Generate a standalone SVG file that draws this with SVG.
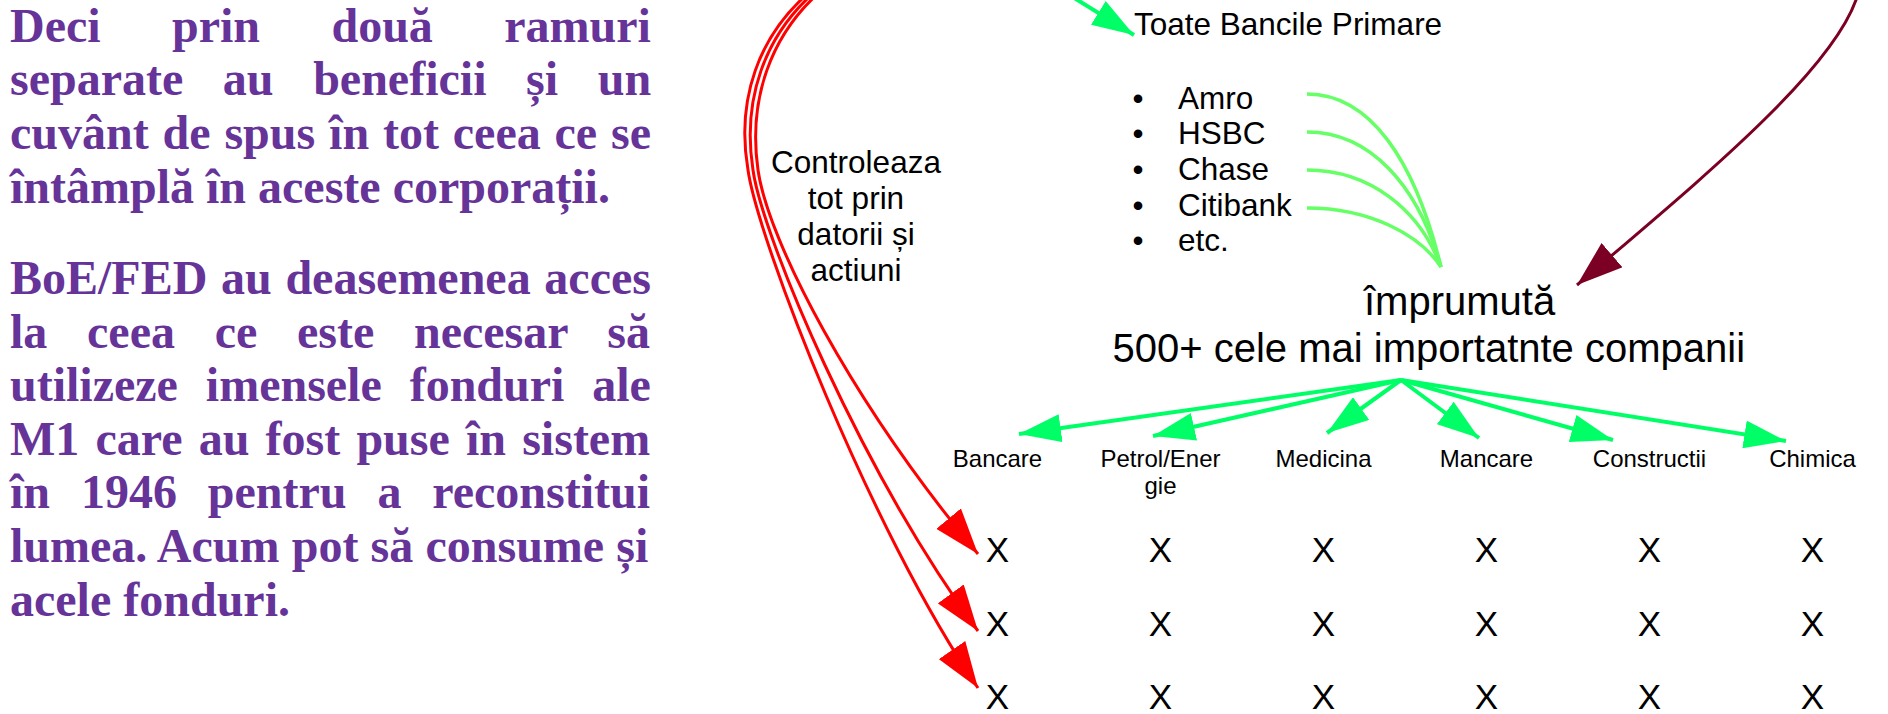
<svg xmlns="http://www.w3.org/2000/svg" width="1888" height="714" viewBox="0 0 1888 714">
<style>
.para{font-family:"Liberation Serif","Times New Roman",serif;font-weight:bold;font-size:48px;fill:#663399}
.lbl{font-family:"Liberation Sans",Arial,sans-serif;fill:#000}
.l31{font-size:31.5px}
.l40{font-size:40px}
.l24{font-size:24px}
.lx{font-size:35px}
.mid{text-anchor:middle}
.red{fill:none;stroke:#ff0000;stroke-width:3}
.dred{fill:none;stroke:#7b0023;stroke-width:3}
.grn{fill:none;stroke:#00ff66;stroke-width:4}
.lgrn{fill:none;stroke:#66ff66;stroke-width:3.5}
</style>
<defs>
<marker id="ah-red" markerUnits="userSpaceOnUse" viewBox="0 0 46 32" refX="46" refY="16" markerWidth="46" markerHeight="32" orient="auto"><path d="M0,0 L46,16 L0,32 z" fill="#ff0000"/></marker>
<marker id="ah-dred" markerUnits="userSpaceOnUse" viewBox="0 0 46 32" refX="46" refY="16" markerWidth="46" markerHeight="32" orient="auto"><path d="M0,0 L46,16 L0,32 z" fill="#7b0023"/></marker>
<marker id="ah-grn" markerUnits="userSpaceOnUse" viewBox="0 0 42 28" refX="42" refY="14" markerWidth="42" markerHeight="28" orient="auto"><path d="M0,0 L42,14 L0,28 z" fill="#00ff66"/></marker>
</defs>
<rect width="1888" height="714" fill="#ffffff"/>

<g id="text-left">
<text class="para" x="10" y="41.7" word-spacing="59.4">Deci prin două ramuri</text>
<text class="para" x="10" y="95.3" word-spacing="27.6">separate au beneficii și un</text>
<text class="para" x="10" y="148.9" word-spacing="1.87">cuvânt de spus în tot ceea ce se</text>
<text class="para" x="10" y="202.5">întâmplă în aceste corporații.</text>
<text class="para" x="10" y="294" word-spacing="1.67">BoE/FED au deasemenea acces</text>
<text class="para" x="10" y="347.6" word-spacing="27.7">la ceea ce este necesar să</text>
<text class="para" x="10" y="401.2" word-spacing="15.9">utilizeze imensele fonduri ale</text>
<text class="para" x="10" y="454.8" word-spacing="4.18">M1 care au fost puse în sistem</text>
<text class="para" x="10" y="508.4" word-spacing="18.9">în 1946 pentru a reconstitui</text>
<text class="para" x="10" y="562" word-spacing="0.2">lumea. Acum pot să consume și</text>
<text class="para" x="10" y="615.6">acele fonduri.</text>
</g>

<g id="node-toate">
<text class="lbl l31" x="1134" y="35">Toate Bancile Primare</text>
</g>

<g id="node-banks">
<text class="lbl l31 mid" x="1138" y="108.5">•</text>
<text class="lbl l31 mid" x="1138" y="144.2">•</text>
<text class="lbl l31 mid" x="1138" y="179.8">•</text>
<text class="lbl l31 mid" x="1138" y="215.5">•</text>
<text class="lbl l31 mid" x="1138" y="251.1">•</text>
<text class="lbl l31" x="1178" y="108.5">Amro</text>
<text class="lbl l31" x="1178" y="144.2">HSBC</text>
<text class="lbl l31" x="1178" y="179.8">Chase</text>
<text class="lbl l31" x="1178" y="215.5">Citibank</text>
<text class="lbl l31" x="1178" y="251.1">etc.</text>
</g>

<g id="label-controleaza">
<text class="lbl l31 mid" x="856" y="173.3">Controleaza</text>
<text class="lbl l31 mid" x="856" y="209">tot prin</text>
<text class="lbl l31 mid" x="856" y="244.8">datorii și</text>
<text class="lbl l31 mid" x="856" y="280.6">actiuni</text>
</g>

<g id="node-imprumuta">
<text class="lbl l40" x="1364" y="315">împrumută</text>
<text class="lbl l40" x="1112.5" y="361.7">500+ cele mai importatnte companii</text>
</g>

<g id="node-bancare"><text class="lbl l24 mid" x="997.5" y="467">Bancare</text></g>
<g id="node-petrol"><text class="lbl l24 mid" x="1160.5" y="467">Petrol/Ener</text><text class="lbl l24 mid" x="1160.5" y="493.5">gie</text></g>
<g id="node-medicina"><text class="lbl l24 mid" x="1323.5" y="467">Medicina</text></g>
<g id="node-mancare"><text class="lbl l24 mid" x="1486.5" y="467">Mancare</text></g>
<g id="node-constructii"><text class="lbl l24 mid" x="1649.5" y="467">Constructii</text></g>
<g id="node-chimica"><text class="lbl l24 mid" x="1812.5" y="467">Chimica</text></g>

<g id="node-x-row1">
<text class="lbl lx mid" x="997.5" y="562">X</text>
<text class="lbl lx mid" x="1160.5" y="562">X</text>
<text class="lbl lx mid" x="1323.5" y="562">X</text>
<text class="lbl lx mid" x="1486.5" y="562">X</text>
<text class="lbl lx mid" x="1649.5" y="562">X</text>
<text class="lbl lx mid" x="1812.5" y="562">X</text>
</g>
<g id="node-x-row2">
<text class="lbl lx mid" x="997.5" y="635.5">X</text>
<text class="lbl lx mid" x="1160.5" y="635.5">X</text>
<text class="lbl lx mid" x="1323.5" y="635.5">X</text>
<text class="lbl lx mid" x="1486.5" y="635.5">X</text>
<text class="lbl lx mid" x="1649.5" y="635.5">X</text>
<text class="lbl lx mid" x="1812.5" y="635.5">X</text>
</g>
<g id="node-x-row3">
<text class="lbl lx mid" x="997.5" y="708.5">X</text>
<text class="lbl lx mid" x="1160.5" y="708.5">X</text>
<text class="lbl lx mid" x="1323.5" y="708.5">X</text>
<text class="lbl lx mid" x="1486.5" y="708.5">X</text>
<text class="lbl lx mid" x="1649.5" y="708.5">X</text>
<text class="lbl lx mid" x="1812.5" y="708.5">X</text>
</g>

<g id="connectors">
<path class="red" d="M822,-10 C770,35 748,100 758,170 C768,240 850,400 978,554" marker-end="url(#ah-red)"/>
<path class="red" d="M817,-10 C764,35 742,100 753,170 C762,235 860,470 978,631" marker-end="url(#ah-red)"/>
<path class="red" d="M812,-10 C758,35 736,100 748,170 C758,240 870,530 978,688" marker-end="url(#ah-red)"/>
<path class="grn" d="M1063,-9 L1134,35" marker-end="url(#ah-grn)"/>
<path class="lgrn" d="M1307,94 C1370,94 1415,160 1441,267"/>
<path class="lgrn" d="M1307,132 C1370,132 1418,185 1441,267"/>
<path class="lgrn" d="M1307,170 C1370,170 1420,210 1441,267"/>
<path class="lgrn" d="M1307,208 C1370,208 1420,235 1441,267"/>
<path class="dred" d="M1860,-15 C1848,60 1700,180 1577,285" marker-end="url(#ah-dred)"/>
<path class="grn" d="M1401,380 L1019,434" marker-end="url(#ah-grn)"/>
<path class="grn" d="M1401,380 L1153,436" marker-end="url(#ah-grn)"/>
<path class="grn" d="M1401,380 L1327,433" marker-end="url(#ah-grn)"/>
<path class="grn" d="M1401,380 L1479,438" marker-end="url(#ah-grn)"/>
<path class="grn" d="M1401,380 L1613,440" marker-end="url(#ah-grn)"/>
<path class="grn" d="M1401,380 L1786,441" marker-end="url(#ah-grn)"/>
</g>
</svg>
